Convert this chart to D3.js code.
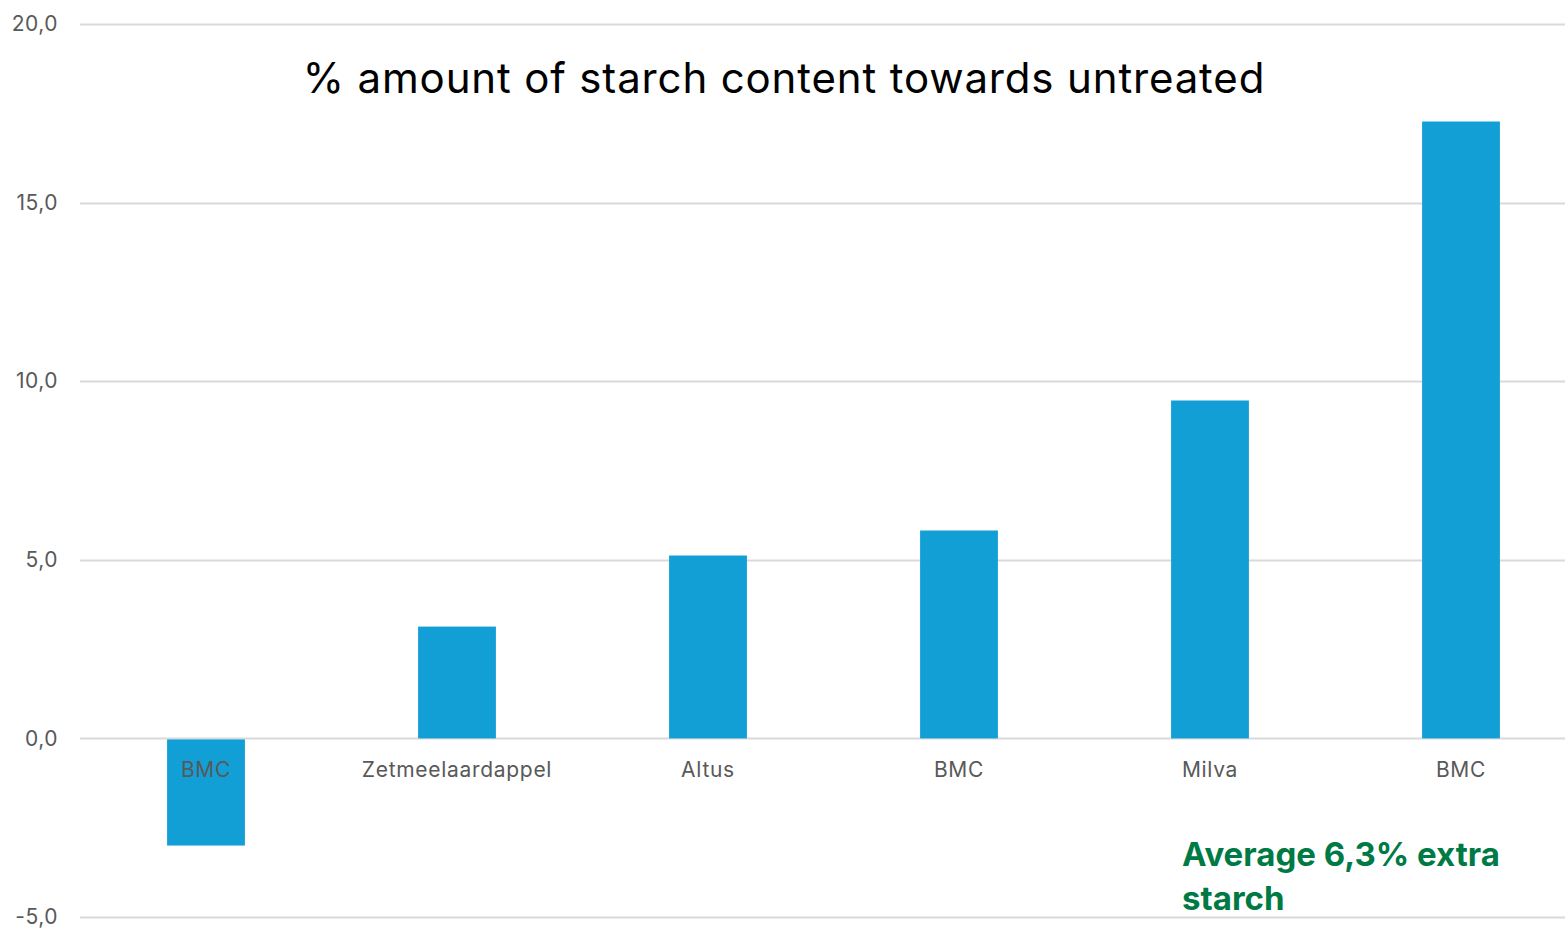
<!DOCTYPE html>
<html>
<head>
<meta charset="utf-8">
<script src="https://cdn.jsdelivr.net/npm/d3@7"></script>
<style>
  html, body { margin: 0; padding: 0; background: #fff; }
  svg { display: block; }
</style>
</head>
<body>
<svg id="chart" width="1565" height="928"></svg>
<script>
// Starch content change per variety, % relative to untreated
const categories = ["BMC", "Zetmeelaardappel", "Altus", "BMC", "Milva", "BMC"];
const values = [-3.0, 3.13, 5.12, 5.82, 9.46, 17.27];
const yTicks = [-5, 0, 5, 10, 15, 20];
const titleText = "% amount of starch content towards untreated";
const noteLines = ["Average 6,3% extra", "starch"];

const svg = d3.select("#chart");
const W = 1565, H = 928;

const x = d3.scaleBand()
  .domain(d3.range(categories.length))
  .range([80.5, 1586.5])
  .paddingInner(0.69)
  .paddingOuter(0.345);

const y = d3.scaleLinear().domain([-5, 20]).range([917, 24]);

// Decimal comma, plain hyphen for negatives
const fmt = v => d3.format(".1f")(v).replace(".", ",").replace("\u2212", "-");

// Gridlines
svg.append("g")
  .selectAll("line")
  .data(yTicks)
  .join("line")
  .attr("x1", 80).attr("x2", W)
  .attr("y1", d => Math.round(y(d)) + 0.5)
  .attr("y2", d => Math.round(y(d)) + 0.5)
  .attr("stroke", "#d9d9d9")
  .attr("stroke-width", 2);

// Y axis labels
const yAxis = d3.axisLeft(y).tickValues(yTicks).tickFormat(fmt).tickSize(0).tickPadding(0);
const ya = svg.append("g").attr("transform", "translate(58,0)").call(yAxis);
ya.select(".domain").remove();
ya.selectAll("text")
  .attr("font-family", "Inter, 'Open Sans', sans-serif")
  .attr("font-size", 21)
  .attr("letter-spacing", "0.5px")
  .attr("fill", "#595959");

// Bars
svg.append("g")
  .selectAll("rect")
  .data(values)
  .join("rect")
  .attr("x", (d, i) => x(i))
  .attr("width", x.bandwidth())
  .attr("y", d => d >= 0 ? y(d) : y(0) + 1)
  .attr("height", d => d >= 0 ? y(0) - y(d) : y(d) - y(0) - 1)
  .attr("fill", "#129fd6");

// Category labels
svg.append("g")
  .selectAll("text")
  .data(categories)
  .join("text")
  .attr("x", (d, i) => x(i) + x.bandwidth() / 2)
  .attr("y", y(0) + 39)
  .attr("text-anchor", "middle")
  .attr("font-family", "Inter, 'Open Sans', sans-serif")
  .attr("font-size", 21)
  .attr("letter-spacing", "0.7px")
  .attr("fill", "#595959")
  .text(d => d);

// Title
svg.append("text")
  .attr("x", 784)
  .attr("y", 93)
  .attr("text-anchor", "middle")
  .attr("font-family", "Inter, 'Liberation Sans', Arial, sans-serif")
  .attr("font-size", 42)
  .attr("letter-spacing", "0.85px")
  .attr("fill", "#000")
  .text(titleText);

// Average note
svg.append("g")
  .selectAll("text")
  .data(noteLines)
  .join("text")
  .attr("x", 1182)
  .attr("y", (d, i) => 866 + i * 44)
  .attr("font-family", "Inter, 'Open Sans', sans-serif")
  .attr("font-weight", 700)
  .attr("font-size", 33)
  .attr("fill", "#007a45")
  .text(d => d);
</script>
</body>
</html>
